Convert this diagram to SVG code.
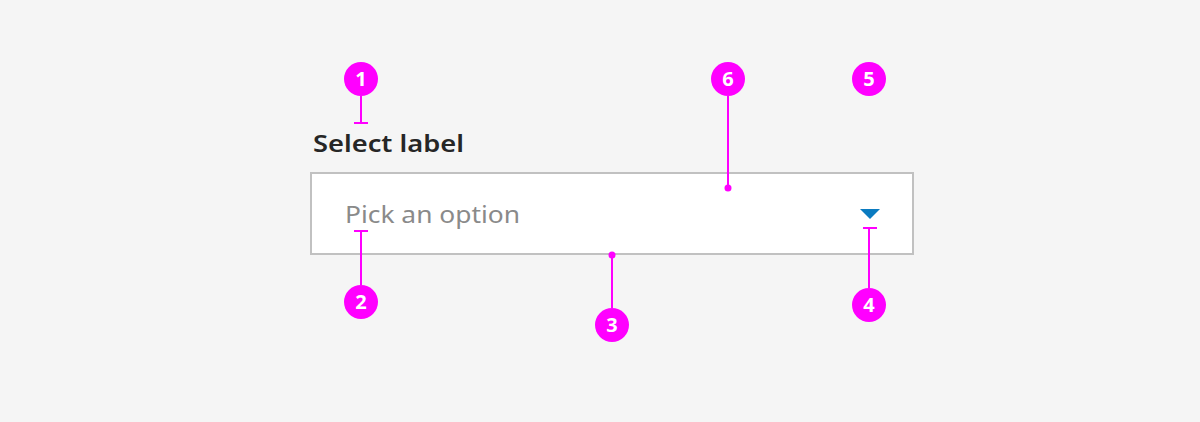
<svg xmlns="http://www.w3.org/2000/svg" width="1200" height="422" viewBox="0 0 1200 422">
<style>
.bg{fill:#f5f5f5}
.callout circle.badge{fill:#ff00ff}
.num{font-family:"Noto Sans","Liberation Sans",sans-serif;font-weight:700;font-size:20px;fill:#ffffff;text-anchor:middle}
.lead{stroke:#ff00ff;stroke-width:2;fill:none}
.dot{fill:#ff00ff}
.label{font-family:"Noto Sans","Liberation Sans",sans-serif;font-weight:600;font-size:24px;fill:#262626}
.ph{font-family:"Noto Sans","Liberation Sans",sans-serif;font-size:24px;fill:#8a8a8a}
</style>
<rect class="bg" x="0" y="0" width="1200" height="422"/>
<g id="select">
<text class="label" x="313" y="152" textLength="151" lengthAdjust="spacingAndGlyphs">Select label</text>
<rect x="311" y="173" width="602" height="81" fill="#ffffff" stroke="#c1c1c1" stroke-width="2"/>
<text class="ph" x="345" y="223" textLength="175" lengthAdjust="spacingAndGlyphs">Pick an option</text>
<polygon points="860,209 880,209 870,219" fill="#0b7bc0"/>
</g>
<g id="connectors">
<path class="lead" d="M361 96 V123 M354 123 H368"/>
<path class="lead" d="M361 285 V231 M354 231 H368"/>
<path class="lead" d="M612 255 V308"/>
<circle class="dot" cx="612" cy="255" r="3.5"/>
<path class="lead" d="M869 288 V228 M863 228 H877"/>
<path class="lead" d="M728 96 V188"/>
<circle class="dot" cx="728" cy="188" r="3.5"/>
</g>
<g id="c1" class="callout"><circle class="badge" cx="361" cy="79" r="17"/><text class="num" x="361" y="86">1</text></g>
<g id="c2" class="callout"><circle class="badge" cx="361" cy="302" r="17"/><text class="num" x="361" y="309">2</text></g>
<g id="c3" class="callout"><circle class="badge" cx="612" cy="325" r="17"/><text class="num" x="612" y="332">3</text></g>
<g id="c4" class="callout"><circle class="badge" cx="869" cy="305" r="17"/><text class="num" x="869" y="312">4</text></g>
<g id="c5" class="callout"><circle class="badge" cx="869" cy="79" r="17"/><text class="num" x="869" y="86">5</text></g>
<g id="c6" class="callout"><circle class="badge" cx="728" cy="79" r="17"/><text class="num" x="728" y="86">6</text></g>
</svg>
